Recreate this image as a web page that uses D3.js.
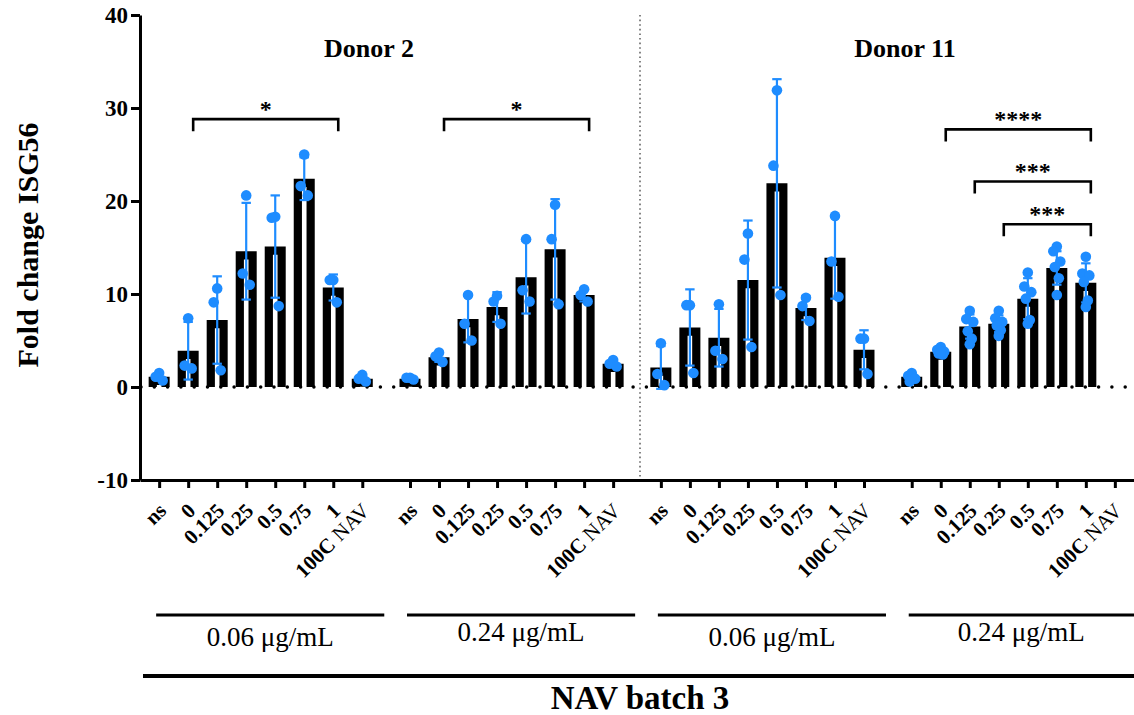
<!DOCTYPE html>
<html>
<head>
<meta charset="utf-8">
<script src="https://cdn.jsdelivr.net/npm/d3@7"></script>
<style>
    body { margin: 0; background: #fff; }
    #chart svg { display: block; font-family: 'Liberation Serif', 'Times New Roman', serif; }
</style>
</head>
<body>
<div id="chart"></div>
<script>
//Colores fijos
const COLOR_BAR = '#000000',
COLOR_POINT = '#1E8CFF',
COLOR_DIVIDER = '#666666';

//Data
const categories = ['ns', '0', '0.125', '0.25', '0.5', '0.75', '1', '100C NAV'];
const donors = ['Donor 2', 'Donor 11'];
const concentrations = ['0.06 μg/mL', '0.24 μg/mL', '0.06 μg/mL', '0.24 μg/mL'];
const batchLabel = 'NAV batch 3';
const yTicks = [-10, 0, 10, 20, 30, 40];

const means = [
    [1.1, 3.9, 7.2, 14.6, 15.1, 22.4, 10.7, 0.9],
    [0.9, 3.2, 7.3, 8.6, 11.8, 14.8, 9.9, 2.5],
    [2.1, 6.4, 5.3, 11.5, 21.9, 8.5, 13.9, 4.0],
    [1.1, 3.8, 6.5, 6.8, 9.5, 12.8, 11.2, null]
];

const sds = [
    [0.4, 3.1, 4.7, 5.2, 5.5, 2.3, 1.4, 0.35],
    [0.1, 0.5, 2.5, 1.6, 3.9, 5.4, 0.7, 0.35],
    [2.3, 4.1, 3.1, 6.4, 11.2, 1.3, 4.4, 2.1],
    [0.4, 0.35, 1.3, 0.9, 2.2, 1.8, 2.1, null]
];

const replicates = [
    [[1.5, 1.1, 0.7], [7.4, 2.3, 2.0], [10.6, 9.1, 1.8], [20.6, 12.2, 11.0], [18.3, 18.2, 8.7], [25.0, 21.6, 20.6], [11.5, 11.5, 9.1], [1.3, 0.9, 0.6]],
    [[1.0, 1.0, 0.8], [3.7, 3.3, 2.7], [9.9, 6.8, 5.0], [9.8, 9.2, 6.8], [15.9, 10.4, 9.2], [19.6, 15.9, 8.9], [10.5, 9.9, 9.2], [2.9, 2.5, 2.2]],
    [[4.7, 1.4, 0.2], [8.8, 8.8, 1.5], [8.9, 3.9, 3.0], [16.5, 13.7, 4.3], [31.9, 23.8, 9.9], [9.6, 8.7, 7.1], [18.4, 13.5, 9.7], [5.2, 5.2, 1.4]],
    [[1.5, 1.2, 0.9, 0.6], [4.3, 4.0, 3.8, 3.6, 3.5, 3.7], [8.2, 7.3, 7.0, 6.0, 5.2, 4.6], [8.2, 7.4, 7.0, 6.6, 6.1, 5.5], [12.3, 10.8, 10.2, 9.5, 7.2, 6.8], [15.1, 14.6, 13.5, 12.9, 11.7, 9.9], [14.0, 12.2, 12.0, 11.3, 9.3, 8.6], []]
];

//Significance brackets: group, from category, to category, height, label
const brackets = [
    [0, 1, 6, 28.8, '*'],
    [1, 1, 6, 28.8, '*'],
    [3, 1, 6, 27.7, '****'],
    [3, 2, 6, 22.1, '***'],
    [3, 3, 6, 17.5, '***']
];

//Layout
let width = 1134, height = 715;
let groupStride = 8.645; //slots between first bars of consecutive groups

let svg = d3.select('#chart')
    .append('svg')
    .attr('width', width)
    .attr('height', height);

svg.append('rect').attr('width', width).attr('height', height).attr('fill', '#fff');

let lastPos = (concentrations.length - 1) * groupStride + categories.length - 1;

let x = d3.scaleLinear()
    .domain([-0.66, lastPos + 0.66])
    .range([140, 1134]);

let y = d3.scaleLinear()
    .domain([-10, 40])
    .range([480, 15]);

function pos(g, i) { return g * groupStride + i; }

//Flatten bars
let bars = [];
means.forEach(function(row, g) {
    row.forEach(function(m, i) {
        bars.push({ g: g, i: i, pos: pos(g, i), mean: m, sd: sds[g][i], pts: replicates[g][i] });
    });
});

//Divider between donors
svg.append('line')
    .attr('x1', 640).attr('x2', 640)
    .attr('y1', y(40)).attr('y2', y(-10))
    .attr('stroke', COLOR_DIVIDER)
    .attr('stroke-width', 1.6)
    .attr('stroke-dasharray', '1.6,3');

//Y axis
let yAxis = function(g) {
    g.call(d3.axisLeft(y).tickValues(yTicks).tickSize(9).tickSizeOuter(0).tickPadding(3)
        .tickFormat(function(d) { return String(d); }));
    g.select('.domain').attr('stroke-width', 3);
    g.selectAll('.tick line').attr('stroke-width', 3);
    g.selectAll('.tick text')
        .attr('font-family', 'Liberation Serif, serif')
        .attr('font-weight', 'bold')
        .attr('font-size', 23)
        .attr('fill', '#000');
};

svg.append('g')
    .attr('transform', 'translate(140,0)')
    .call(yAxis);

//X axis
let allPos = [], allLabels = {};
concentrations.forEach(function(c, g) {
    categories.forEach(function(cat, i) {
        allPos.push(pos(g, i));
        allLabels[pos(g, i)] = cat;
    });
});

let xAxis = function(g) {
    g.call(d3.axisBottom(x).tickValues(allPos).tickSize(8).tickSizeOuter(0).tickFormat(function(d) { return allLabels[d]; }));
    g.select('.domain').attr('stroke-width', 3);
    g.selectAll('.tick line').attr('stroke-width', 3);
    g.selectAll('.tick text').each(function(d) {
        let t = d3.select(this);
        let label = allLabels[d];
        t.text(null)
            .attr('y', null).attr('dy', null)
            .attr('text-anchor', 'end')
            .attr('font-family', 'Liberation Serif, serif')
            .attr('font-size', 21)
            .attr('fill', '#000')
            .attr('transform', 'translate(8,32) rotate(-45)');
        if (label === '100C NAV') {
            t.append('tspan').attr('font-weight', 'bold').text('100C ');
            t.append('tspan').attr('font-weight', 'normal').text('NAV');
        } else {
            t.attr('font-weight', 'bold').text(label);
        }
    });
};

svg.append('g')
    .attr('transform', 'translate(0,' + y(-10) + ')')
    .call(xAxis);

//Bars (hollow, thick outline, open bottom)
let barHalf = 6.4, barStroke = 8.2;
svg.append('g')
    .selectAll('path')
    .data(bars.filter(function(d) { return d.mean !== null; }))
    .enter()
    .append('path')
    .attr('d', function(d) {
        let cx = x(d.pos), top = y(d.mean) + barStroke / 2, base = y(0);
        return 'M' + (cx - barHalf) + ',' + base + 'L' + (cx - barHalf) + ',' + top +
            'L' + (cx + barHalf) + ',' + top + 'L' + (cx + barHalf) + ',' + base;
    })
    .attr('fill', '#fff')
    .attr('stroke', COLOR_BAR)
    .attr('stroke-width', barStroke)
    .attr('stroke-linejoin', 'miter');

//Dotted zero line
svg.append('line')
    .attr('x1', 141).attr('x2', width)
    .attr('y1', y(0)).attr('y2', y(0))
    .attr('stroke', '#000')
    .attr('stroke-width', 3.5)
    .attr('stroke-linecap', 'round')
    .attr('stroke-dasharray', '0,13.3');

//Error bars (mean ± SD)
let errG = svg.append('g')
    .attr('stroke', COLOR_POINT)
    .attr('stroke-width', 2.2);

bars.filter(function(d) { return d.mean !== null; }).forEach(function(d) {
    let cx = x(d.pos);
    errG.append('line')
        .attr('x1', cx).attr('x2', cx)
        .attr('y1', y(d.mean - d.sd)).attr('y2', y(d.mean + d.sd));
    [d.mean - d.sd, d.mean + d.sd].forEach(function(v) {
        errG.append('line')
            .attr('x1', cx - 4.7).attr('x2', cx + 4.7)
            .attr('y1', y(v)).attr('y2', y(v));
    });
});

//Replicate points
let jitter = [0, -3.5, 3.5, -2, 2, 0];
svg.append('g')
    .selectAll('circle')
    .data(bars.flatMap(function(d) {
        return d.pts.map(function(v, j) { return { pos: d.pos, v: v, j: j }; });
    }))
    .enter()
    .append('circle')
    .attr('cx', function(d) { return x(d.pos) + jitter[d.j % jitter.length]; })
    .attr('cy', function(d) { return y(d.v); })
    .attr('r', 5.3)
    .attr('fill', COLOR_POINT);

//Significance brackets
let brG = svg.append('g');
brackets.forEach(function(b) {
    let x1 = x(pos(b[0], b[1])) + 5,
        x2 = x(pos(b[0], b[2])) + 5,
        yb = y(b[3]);
    brG.append('path')
        .attr('d', 'M' + x1 + ',' + (yb + 12) + 'V' + yb + 'H' + x2 + 'V' + (yb + 12))
        .attr('fill', 'none')
        .attr('stroke', '#000')
        .attr('stroke-width', 2.6);
    brG.append('text')
        .attr('x', (x1 + x2) / 2)
        .attr('y', yb - 2)
        .attr('text-anchor', 'middle')
        .attr('font-weight', 'bold')
        .attr('font-size', 24)
        .text(b[4]);
});

//Donor titles
let donorX = [369, 905];
donors.forEach(function(d, k) {
    svg.append('text')
        .attr('x', donorX[k])
        .attr('y', 57)
        .attr('text-anchor', 'middle')
        .attr('font-weight', 'bold')
        .attr('font-size', 26)
        .text(d);
});

//Y axis title
svg.append('text')
    .attr('transform', 'translate(38,245) rotate(-90)')
    .attr('text-anchor', 'middle')
    .attr('font-weight', 'bold')
    .attr('font-size', 30)
    .text('Fold change ISG56');

//Concentration groups under the axis
concentrations.forEach(function(c, g) {
    let x1 = x(pos(g, 0)) - 3,
        x2 = Math.min(width, x(pos(g, categories.length - 1)) + 22);
    svg.append('line')
        .attr('x1', x1).attr('x2', x2)
        .attr('y1', 615).attr('y2', 615)
        .attr('stroke', '#000')
        .attr('stroke-width', 3);
    svg.append('text')
        .attr('x', (x1 + x2) / 2)
        .attr('y', g % 2 === 0 ? 646 : 641)
        .attr('text-anchor', 'middle')
        .attr('font-size', 27)
        .text(c);
});

//Batch line and label
svg.append('line')
    .attr('x1', 143).attr('x2', width)
    .attr('y1', 676).attr('y2', 676)
    .attr('stroke', '#000')
    .attr('stroke-width', 4);

svg.append('text')
    .attr('x', 640)
    .attr('y', 709)
    .attr('text-anchor', 'middle')
    .attr('font-weight', 'bold')
    .attr('font-size', 33)
    .text(batchLabel);
</script>
</body>
</html>
